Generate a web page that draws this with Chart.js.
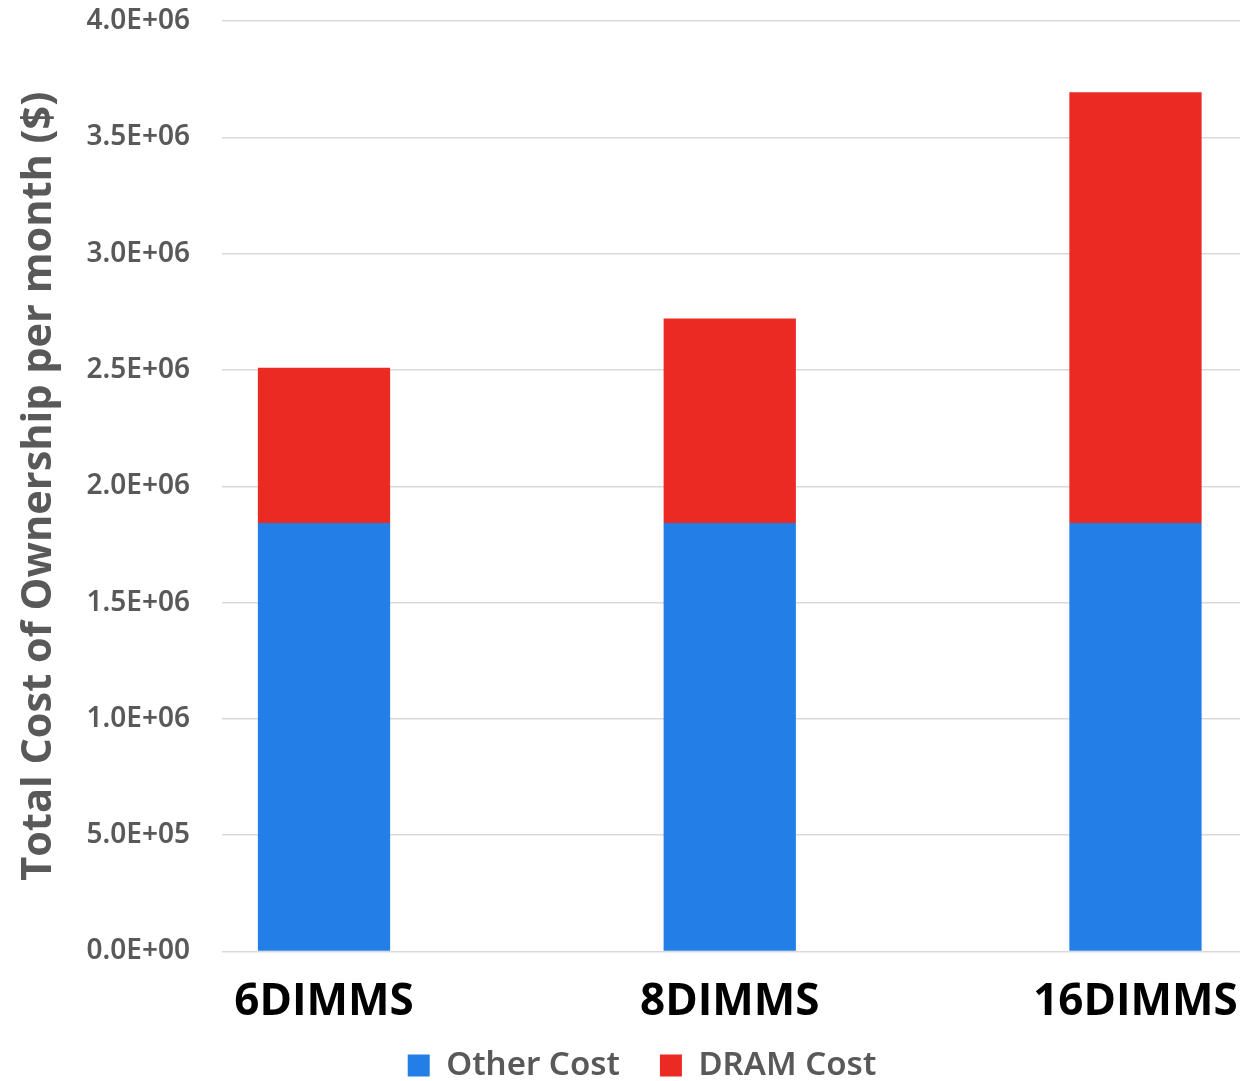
<!DOCTYPE html>
<html>
<head>
<meta charset="utf-8">
<script src="https://cdn.jsdelivr.net/npm/chart.js@4/dist/chart.umd.min.js"></script>
<style>
  html, body { margin: 0; padding: 0; background: #ffffff; }
  #wrap { width: 1250px; height: 1081px; position: relative; }
</style>
</head>
<body>
<div id="wrap"><canvas id="c"></canvas></div>
<script>
// Monthly total cost of ownership by memory configuration
const categories = ['6DIMMS', '8DIMMS', '16DIMMS'];
const otherCost = [1.842e6, 1.842e6, 1.842e6];
const dramCost = [0.667e6, 0.879e6, 1.852e6];
const yTicks = [0, 5e5, 1e6, 1.5e6, 2e6, 2.5e6, 3e6, 3.5e6, 4e6];

// "2.5E+06" style labels
function sci(v) {
  if (v === 0) return '0.0E+00';
  const [m, e] = v.toExponential(1).toUpperCase().split('E');
  const n = parseInt(e, 10);
  return m + 'E' + (n < 0 ? '-' : '+') + String(Math.abs(n)).padStart(2, '0');
}

const toPoints = arr => arr.map((v, i) => ({ x: i, y: v }));

new Chart(document.getElementById('c'), {
  type: 'bar',
  data: {
    datasets: [
      { label: 'Other Cost', data: toPoints(otherCost), backgroundColor: '#237fe6',
        barPercentage: 0.326, categoryPercentage: 1 },
      { label: 'DRAM Cost', data: toPoints(dramCost), backgroundColor: '#eb2a24',
        barPercentage: 0.326, categoryPercentage: 1 }
    ]
  },
  options: {
    responsive: true,
    maintainAspectRatio: false,
    animation: false,
    layout: { padding: { top: 21, right: 10, left: 44, bottom: -11 } },
    plugins: {
      tooltip: { enabled: false },
      legend: {
        position: 'bottom',
        labels: {
          boxWidth: 22, boxHeight: 22, padding: 40,
          color: '#595959',
          font: { family: '"Noto Sans", "Open Sans"', size: 33, weight: '600' }
        }
      }
    },
    scales: {
      x: {
        type: 'linear',
        stacked: true,
        offset: false,
        min: -0.2514,
        max: 2.2576,
        afterBuildTicks: s => { s.ticks = categories.map((_, i) => ({ value: i })); },
        afterFit: s => {
          s.height = 57.5;
          // let the category names run past the short axis box
          s._computeLabelArea = () => null;
        },
        grid: { display: true, color: 'rgba(0,0,0,0)', drawTicks: true, tickLength: 25, tickColor: 'rgba(0,0,0,0)' },
        border: { display: false },
        ticks: {
          autoSkip: false, maxRotation: 0, padding: 0,
          color: '#000000',
          font: { family: '"Open Sans"', size: 44, weight: 'bold' },
          callback: v => categories[v]
        }
      },
      y: {
        stacked: true,
        min: 0,
        max: 4e6,
        afterBuildTicks: s => { s.ticks = yTicks.map(v => ({ value: v })); },
        afterFit: s => { s.width = 178; },
        grid: { color: '#d9d9d9', lineWidth: 1.5, drawTicks: true, tickLength: 30, tickColor: 'rgba(0,0,0,0)' },
        border: { display: false },
        ticks: {
          padding: 2,
          color: '#595959',
          font: { family: '"Noto Sans", "Open Sans"', size: 28, weight: '600' },
          callback: v => sci(v)
        },
        title: {
          display: true,
          text: 'Total Cost of Ownership per month ($)',
          color: '#595959',
          padding: { top: -30, bottom: 0 },
          font: { family: '"Open Sans"', size: 41.5, weight: 'bold' }
        }
      }
    }
  }
});
</script>
</body>
</html>
